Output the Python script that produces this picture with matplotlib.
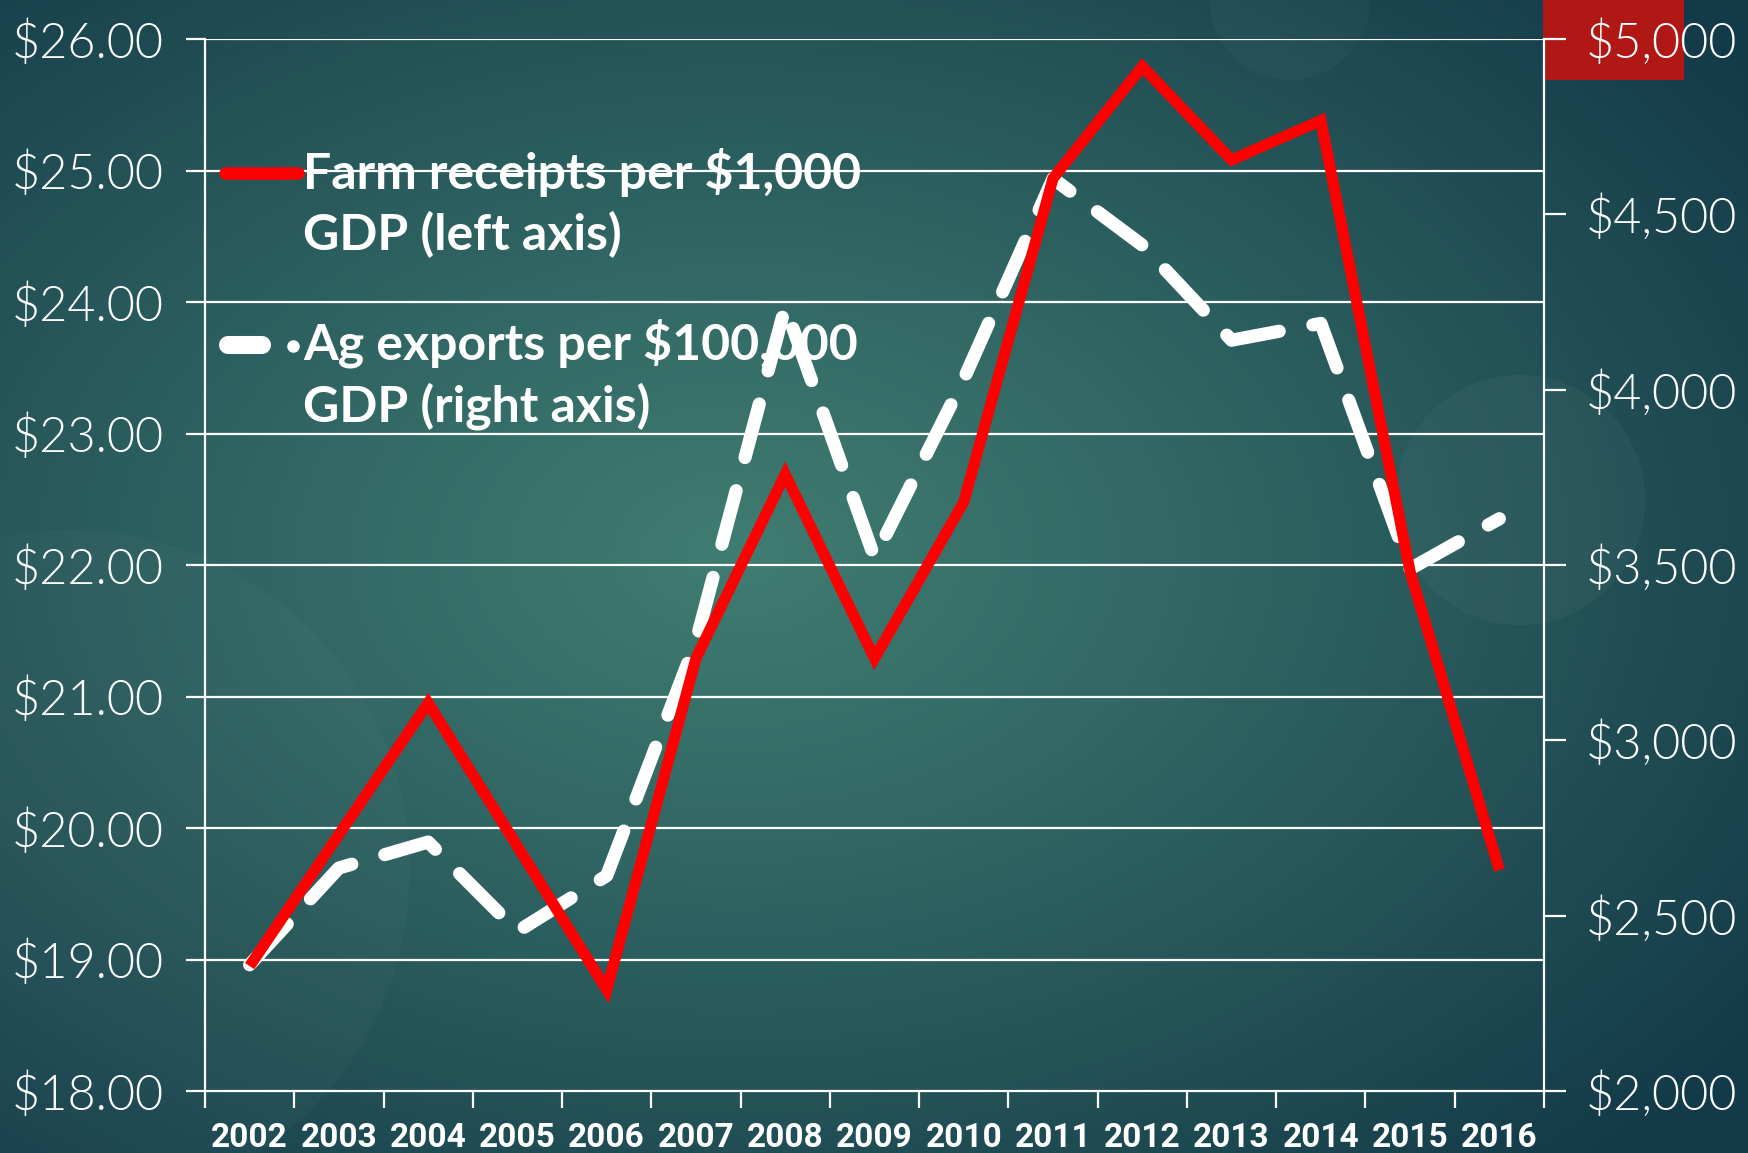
import numpy as np
import matplotlib
matplotlib.use("Agg")
import matplotlib.pyplot as plt
from matplotlib.patches import Rectangle, Circle
from matplotlib.lines import Line2D

years = ["2002", "2003", "2004", "2005", "2006", "2007", "2008", "2009",
         "2010", "2011", "2012", "2013", "2014", "2015", "2016"]
farm_receipts = [18.95, 19.95, 20.95, 19.86, 18.77, 21.29, 22.69, 21.29,
                 22.48, 24.94, 25.79, 25.08, 25.38, 21.95, 19.68]
ag_exports = [2360, 2636, 2710, 2455, 2614, 3282, 4237, 3521,
              4030, 4602, 4412, 4141, 4189, 3489, 3632]
left_ticks = [18, 19, 20, 21, 22, 23, 24, 25, 26]
right_ticks = [2000, 2500, 3000, 3500, 4000, 4500, 5000]
legend_farm = "Farm receipts per $1,000\nGDP (left axis)"
legend_ag = "Ag exports per $100,000\nGDP (right axis)"

W, H = 1749, 1153
fig = plt.figure(figsize=(W / 100, H / 100), dpi=100)

# background gradient
bg = fig.add_axes([0, 0, 1, 1], zorder=-10)
yy, xx = np.mgrid[0:H, 0:W]
cx, cy = 0.42 * W, 0.48 * H
r = np.sqrt(((xx - cx) / W) ** 2 + ((yy - cy) / H) ** 2)
t = np.clip(r / 0.72, 0, 1) ** 1.1
c_center = np.array([0x3f, 0x7c, 0x71]) / 255
c_edge = np.array([0x13, 0x3a, 0x48]) / 255
img = c_center[None, None, :] * (1 - t[..., None]) + c_edge[None, None, :] * t[..., None]
bg.imshow(img, extent=[0, W, H, 0], aspect="auto")
bg.set_xlim(0, W)
bg.set_ylim(H, 0)
bg.axis("off")
for (x0, y0, rad, a) in [(70, 870, 340, 0.025), (1520, 500, 125, 0.035), (1290, 0, 80, 0.025)]:
    bg.add_patch(Circle((x0, y0), rad, color="white", alpha=a, lw=0))
bg.add_patch(Rectangle((1543, 0), 141, 80, color="#b01816", lw=0))

ax = fig.add_axes([205 / W, 62 / H, 1339 / W, 1052 / H])
ax.patch.set_alpha(0)
x = np.arange(len(years))

ax.set_xlim(-0.5, len(years) - 0.5)
ax.set_ylim(18, 26)
ax.set_yticks(left_ticks)
ax.set_yticklabels([f"${v:.2f}" for v in left_ticks])
for v in left_ticks[1:]:
    ax.axhline(v, color="white", lw=1.6, zorder=1)

ax.set_xticks(np.arange(-0.5, len(years), 1))
ax.set_xticklabels([])
ax.set_xticks(x, minor=True)
ax.set_xticklabels(years, minor=True)
ax.tick_params(axis="x", which="major", direction="out", length=12, width=1.6, color="white")
ax.tick_params(axis="x", which="minor", length=0, pad=22, labelsize=24, labelcolor="white")
for lab in ax.get_xticklabels(minor=True):
    lab.set_fontfamily(["Roboto", "DejaVu Sans"])
    lab.set_fontweight("bold")
ax.tick_params(axis="y", direction="out", length=14, width=1.6, color="white",
               labelsize=35, labelcolor="white", pad=16)
for lab in ax.get_yticklabels():
    lab.set_fontfamily(["Lato", "DejaVu Sans"])
    lab.set_fontweight(300)

for s in ["top", "right"]:
    ax.spines[s].set_visible(False)
for s in ["left", "bottom"]:
    ax.spines[s].set_color("white")
    ax.spines[s].set_linewidth(1.6)

ax2 = ax.twinx()
ax2.set_ylim(2000, 5000)
ax2.set_yticks(right_ticks)
ax2.set_yticklabels([f"${v:,}" for v in right_ticks])
ax2.tick_params(axis="y", direction="out", length=16, width=1.6, color="white",
                labelsize=35, labelcolor="white", pad=14)
for lab in ax2.get_yticklabels():
    lab.set_fontfamily(["Lato", "DejaVu Sans"])
    lab.set_fontweight(300)
for s in ["top", "left", "bottom"]:
    ax2.spines[s].set_visible(False)
ax2.spines["right"].set_color("white")
ax2.spines["right"].set_linewidth(1.6)

ax2.plot(x, ag_exports, color="white", lw=9.5, linestyle=(0, (4.2, 2.6)),
         dash_capstyle="round", solid_joinstyle="round", zorder=3)
ax2.plot(x, [np.interp(v, [18, 26], [2000, 5000]) for v in farm_receipts],
         color="#ff0000", lw=8, solid_joinstyle="miter", solid_capstyle="butt", zorder=4)

# manual legend in figure pixels
def fx(px):
    return px / W

def fy(py):
    return 1 - py / H

fig.add_artist(Line2D([fx(225), fx(298)], [fy(173), fy(173)], color="#ff0000",
                      lw=9, solid_capstyle="round"))
fig.text(fx(303), fy(148), legend_farm, color="white", fontsize=36, fontweight="bold",
         family=["Lato", "DejaVu Sans"], va="top", ha="left", linespacing=1.37,
         transform=fig.transFigure)
fig.add_artist(Line2D([fx(228), fx(262)], [fy(345), fy(345)], color="white",
                      lw=13, solid_capstyle="round"))
fig.add_artist(Line2D([fx(293)], [fy(346)], color="white", marker="o",
                      markersize=8, linestyle="none"))
fig.text(fx(303), fy(318), legend_ag, color="white", fontsize=36, fontweight="bold",
         family=["Lato", "DejaVu Sans"], va="top", ha="left", linespacing=1.37,
         transform=fig.transFigure)

fig.savefig("out.png", dpi=100)
